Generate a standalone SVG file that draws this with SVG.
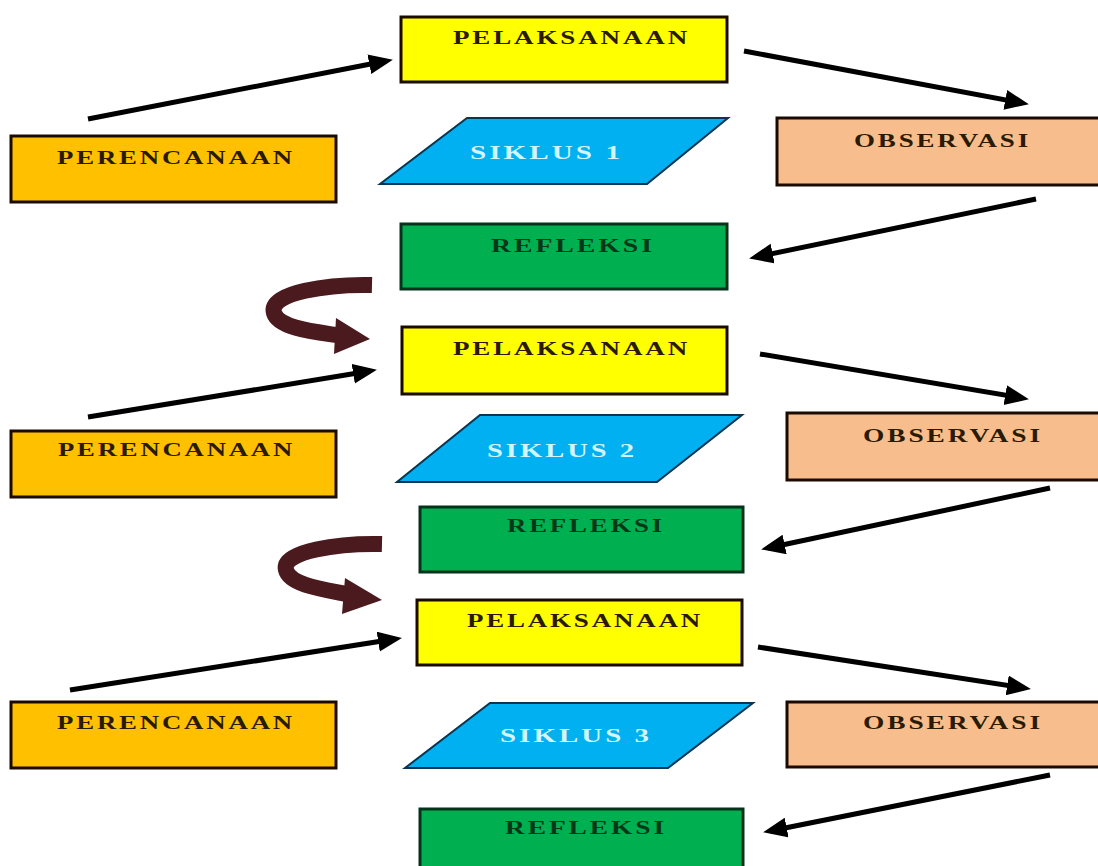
<svg xmlns="http://www.w3.org/2000/svg" width="1098" height="866" viewBox="0 0 1098 866">
<style>
.box{stroke:#1a0a00;stroke-width:3}
.pel{fill:#ffff00}
.per{fill:#ffc000}
.obs{fill:#f8bd8c}
.ref{fill:#00b050;stroke:#05331a}
.sik{fill:#00b0f0;stroke:#0a3550;stroke-width:2}
.t{font-family:"Liberation Serif","Times New Roman",serif;font-weight:bold;font-size:19px;letter-spacing:2px}
.dk{fill:#2a1a00}
.gt{fill:#063818}
.wt{fill:#d2f6ff}
.arr{stroke:#000;stroke-width:5;fill:none;marker-end:url(#ah)}
.cur{stroke:#4a1a1e;stroke-width:16;fill:none;stroke-linecap:butt}
.curh{fill:#4a1a1e}
</style>
<defs>
<marker id="ah" markerUnits="userSpaceOnUse" markerWidth="26" markerHeight="22" refX="17" refY="10" orient="auto">
<path d="M0,0 L24,10 L0,20 Z" fill="#000"/>
</marker>
</defs>
<rect width="1098" height="866" fill="#ffffff"/>

<g id="connectors">
<line class="arr" x1="88" y1="119" x2="386" y2="61"/>
<line class="arr" x1="744" y1="51" x2="1022" y2="103"/>
<line class="arr" x1="1036" y1="199" x2="756" y2="257"/>
<line class="arr" x1="88" y1="417" x2="370" y2="371"/>
<line class="arr" x1="760" y1="354" x2="1022" y2="398"/>
<line class="arr" x1="1050" y1="488" x2="768" y2="548"/>
<line class="arr" x1="70" y1="690" x2="395" y2="639"/>
<line class="arr" x1="758" y1="647" x2="1024" y2="688"/>
<line class="arr" x1="1050" y1="775" x2="770" y2="831"/>
<path class="cur" d="M372,285 C330,284 268,292 274,313 C279,329 318,332 343,336"/>
<polygon class="curh" points="336,318 370,339 334,354"/>
<path class="cur" d="M382,544 C340,543 281,551 286,570 C290,586 328,590 352,595"/>
<polygon class="curh" points="345,578 382,600 342,614"/>
</g>

<g id="pelaksanaan1"><rect class="box pel" x="401" y="17" width="326" height="65"/><text class="t dk" x="453" y="44" textLength="237" lengthAdjust="spacingAndGlyphs">PELAKSANAAN</text></g>
<g id="perencanaan1"><rect class="box per" x="11" y="136" width="325" height="66"/><text class="t dk" x="57" y="164" textLength="238" lengthAdjust="spacingAndGlyphs">PERENCANAAN</text></g>
<g id="siklus1"><polygon class="sik" points="467,118 728,118 647,184 380,184"/><text class="t wt" x="470" y="159" textLength="153" lengthAdjust="spacingAndGlyphs">SIKLUS 1</text></g>
<g id="observasi1"><rect class="box obs" x="777" y="118" width="330" height="67"/><text class="t dk" x="854" y="147" textLength="177" lengthAdjust="spacingAndGlyphs">OBSERVASI</text></g>
<g id="refleksi1"><rect class="box ref" x="401" y="224" width="326" height="65"/><text class="t gt" x="491" y="252" textLength="164" lengthAdjust="spacingAndGlyphs">REFLEKSI</text></g>

<g id="pelaksanaan2"><rect class="box pel" x="402" y="327" width="325" height="67"/><text class="t dk" x="453" y="355" textLength="237" lengthAdjust="spacingAndGlyphs">PELAKSANAAN</text></g>
<g id="perencanaan2"><rect class="box per" x="11" y="431" width="325" height="66"/><text class="t dk" x="58" y="456" textLength="237" lengthAdjust="spacingAndGlyphs">PERENCANAAN</text></g>
<g id="siklus2"><polygon class="sik" points="480,415 742,415 657,482 397,482"/><text class="t wt" x="487" y="457" textLength="150" lengthAdjust="spacingAndGlyphs">SIKLUS 2</text></g>
<g id="observasi2"><rect class="box obs" x="787" y="413" width="320" height="67"/><text class="t dk" x="863" y="442" textLength="180" lengthAdjust="spacingAndGlyphs">OBSERVASI</text></g>
<g id="refleksi2"><rect class="box ref" x="420" y="507" width="323" height="65"/><text class="t gt" x="507" y="532" textLength="158" lengthAdjust="spacingAndGlyphs">REFLEKSI</text></g>

<g id="pelaksanaan3"><rect class="box pel" x="417" y="600" width="325" height="65"/><text class="t dk" x="467" y="627" textLength="236" lengthAdjust="spacingAndGlyphs">PELAKSANAAN</text></g>
<g id="perencanaan3"><rect class="box per" x="11" y="702" width="325" height="66"/><text class="t dk" x="57" y="729" textLength="238" lengthAdjust="spacingAndGlyphs">PERENCANAAN</text></g>
<g id="siklus3"><polygon class="sik" points="490,703 753,703 668,768 405,768"/><text class="t wt" x="500" y="742" textLength="152" lengthAdjust="spacingAndGlyphs">SIKLUS 3</text></g>
<g id="observasi3"><rect class="box obs" x="787" y="702" width="320" height="65"/><text class="t dk" x="863" y="729" textLength="180" lengthAdjust="spacingAndGlyphs">OBSERVASI</text></g>
<g id="refleksi3"><rect class="box ref" x="420" y="809" width="323" height="70"/><text class="t gt" x="505" y="834" textLength="162" lengthAdjust="spacingAndGlyphs">REFLEKSI</text></g>
</svg>
